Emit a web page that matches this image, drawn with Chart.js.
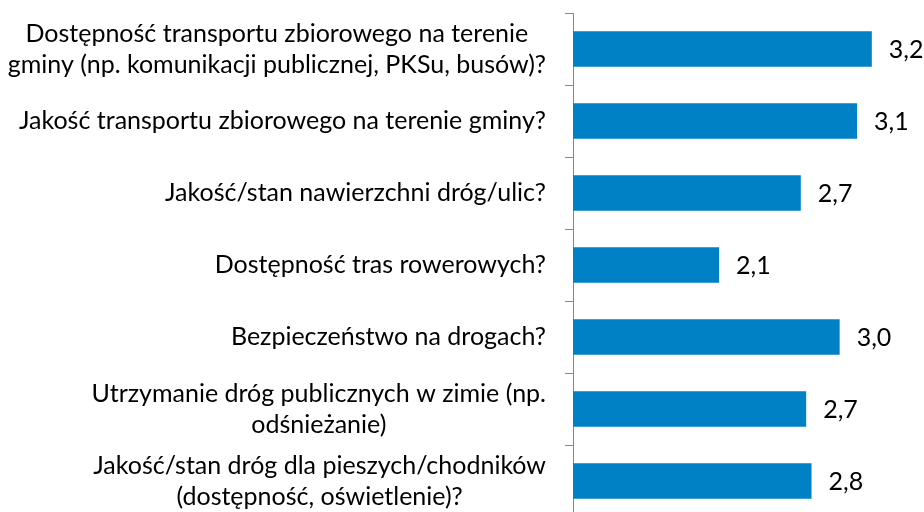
<!DOCTYPE html>
<html>
<head>
<meta charset="utf-8">
<script src="https://cdn.jsdelivr.net/npm/chart.js@4.4.1/dist/chart.umd.min.js"></script>
<style>
html, body { margin: 0; padding: 0; overflow: hidden; background: #fff; }
#wrap { width: 924px; height: 520px; }
</style>
</head>
<body>
<div id="wrap"><canvas id="chart"></canvas></div>
<script>
const CATEGORIES = [
	['Dostępność transportu zbiorowego na terenie', 'gminy (np. komunikacji publicznej, PKSu, busów)?'],
	['Jakość transportu zbiorowego na terenie gminy?'],
	['Jakość/stan nawierzchni dróg/ulic?'],
	['Dostępność tras rowerowych?'],
	['Bezpieczeństwo na drogach?'],
	['Utrzymanie dróg publicznych w zimie (np.', 'odśnieżanie)'],
	['Jakość/stan dróg dla pieszych/chodników', '(dostępność, oświetlenie)?'],
];
const VALUES = [3.23, 3.12, 2.70, 2.09, 2.99, 2.74, 2.78];
const X_MIN = 1;
const X_MAX = 3.5;

const COLORS = {
	bar: '#0081c6',
	axis: '#868686',
	text: '#000000',
};
const FONT_FAMILY = 'Lato, "Open Sans", sans-serif';
const FONT_SIZE = 25;
const LINE_H = 31;

const fmt = (v) => v.toFixed(1).replace('.', ',');

// category + value labels, Excel style (lines centered, block right-aligned)
const labelPlugin = {
	id: 'labels',
	afterDraw(chart) {
		const ctx = chart.ctx;
		const y_scale = chart.scales.y;
		const meta = chart.getDatasetMeta(0);
		const right = chart.chartArea.left - 27;
		ctx.save();
		ctx.font = FONT_SIZE + 'px ' + FONT_FAMILY;
		ctx.fillStyle = COLORS.text;
		ctx.textBaseline = 'middle';
		ctx.textAlign = 'center';
		CATEGORIES.forEach((lines, i) => {
			const cy = y_scale.getPixelForValue(i);
			const w = Math.max(...lines.map((l) => ctx.measureText(l).width));
			const cx = right - w / 2;
			lines.forEach((l, j) => {
				ctx.fillText(l, cx, cy + (j - (lines.length - 1) / 2) * LINE_H);
			});
		});
		ctx.textAlign = 'left';
		meta.data.forEach((bar, i) => {
			ctx.fillText(fmt(VALUES[i]), bar.x + 17, bar.y + 1);
		});
		ctx.restore();
	},
};

const data_chart = {
	labels: CATEGORIES,
	datasets: [
		{
			data: VALUES,
			backgroundColor: COLORS.bar,
			borderWidth: 0,
			categoryPercentage: 1,
			barPercentage: 0.49,
		},
	],
};

const config_chart = {
	type: 'bar',
	data: data_chart,
	plugins: [labelPlugin],
	options: {
		indexAxis: 'y',
		responsive: true,
		maintainAspectRatio: false,
		animation: false,
		layout: {
			padding: { left: 565, right: 16, top: 13, bottom: 3 },
		},
		plugins: {
			legend: { display: false },
			tooltip: { enabled: false },
		},
		scales: {
			x: {
				display: false,
				min: X_MIN,
				max: X_MAX,
			},
			y: {
				grid: {
					display: true,
					drawOnChartArea: false,
					drawTicks: true,
					tickLength: 8,
					offset: true,
					color: COLORS.axis,
				},
				border: { display: true, color: COLORS.axis, width: 1 },
				ticks: { display: false },
			},
		},
	},
};

new Chart(document.getElementById('chart').getContext('2d'), config_chart);
</script>
</body>
</html>
